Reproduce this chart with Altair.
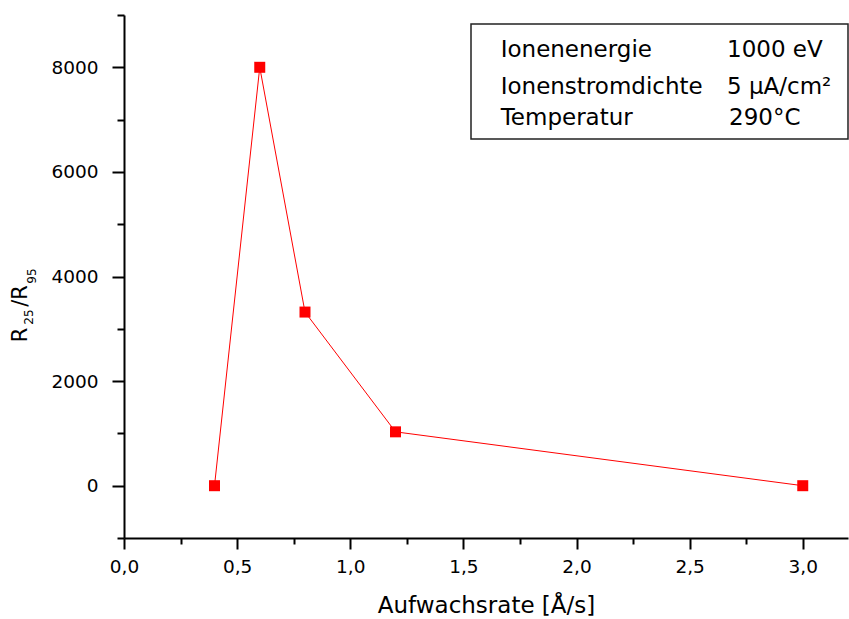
import altair as alt
import pandas as pd

# Measured resistance ratio against growth rate
rate = [0.4, 0.6, 0.8, 1.2, 3.0]
ratio = [0, 8000, 3320, 1030, 0]

# Process parameters shown in the boxed annotation
param_names = ["Ionenenergie", "Ionenstromdichte", "Temperatur"]
param_values = ["1000 eV", "5 µA/cm²", "290°C"]

x_ticks = [i * 0.25 for i in range(13)]
y_ticks = list(range(-1000, 9001, 1000))

FONT = "DejaVu Sans"
W, H = 724, 523
RED = "#ff0000"

df = pd.DataFrame({"rate": rate, "ratio": ratio})

x_enc = alt.X(
    "rate:Q",
    scale=alt.Scale(domain=[0, 3.2], nice=False, zero=False),
    axis=alt.Axis(
        title="Aufwachsrate [Å/s]",
        values=x_ticks,
        labelExpr="datum.value % 0.5 === 0 ? replace(format(datum.value, '.1f'), '.', ',') : ''",
        tickSize={"condition": {"test": "datum.value % 0.5 === 0", "value": 11}, "value": 6},
        labelFlush=False,
        labelPadding=8,
        titlePadding=19,
    ),
)
y_enc = alt.Y(
    "ratio:Q",
    scale=alt.Scale(domain=[-1000, 9000], nice=False, zero=False),
    axis=alt.Axis(
        title="",
        values=y_ticks,
        labelExpr="datum.value % 2000 === 0 ? format(datum.value, 'd') : ''",
        tickSize={"condition": {"test": "datum.value % 2000 === 0", "value": 12}, "value": 7},
        labelFlush=False,
        labelPadding=14,
    ),
)

line = alt.Chart(df).mark_line(color=RED, strokeWidth=1).encode(x=x_enc, y=y_enc)
points = alt.Chart(df).mark_point(
    shape="square", filled=True, color=RED, size=121, opacity=1
).encode(x="rate:Q", y="ratio:Q")

layers = [line, points]

# Rotated y-axis title R25/R95 with subscripts
ytitle_parts = [
    ("R", 21, -97, 320),
    ("25", 12, -91, 302),
    ("/R", 21, -97, 281),
    ("95", 12, -88, 261),
]
for txt, fs, px, py in ytitle_parts:
    layers.append(
        alt.Chart(pd.DataFrame({"t": [txt]}))
        .mark_text(angle=270, align="center", baseline="alphabetic", font=FONT, fontSize=fs, color="black")
        .encode(text="t:N", x=alt.value(px), y=alt.value(py))
    )

# Parameter box
layers.append(
    alt.Chart(pd.DataFrame({"t": [""]}))
    .mark_rect(fill="white", stroke="#222222", strokeWidth=1.5)
    .encode(x=alt.value(347), x2=alt.value(724), y=alt.value(9), y2=alt.value(124))
)
row_baselines = [42.3, 79.3, 110]
value_x = [603, 603, 605]
for name, val, yb, vx in zip(param_names, param_values, row_baselines, value_x):
    layers.append(
        alt.Chart(pd.DataFrame({"t": [name]}))
        .mark_text(align="left", baseline="alphabetic", font=FONT, fontSize=23, color="black")
        .encode(text="t:N", x=alt.value(376.7), y=alt.value(yb))
    )
    layers.append(
        alt.Chart(pd.DataFrame({"t": [val]}))
        .mark_text(align="left", baseline="alphabetic", font=FONT, fontSize=23, color="black")
        .encode(text="t:N", x=alt.value(vx), y=alt.value(yb))
    )

chart = (
    alt.layer(*layers)
    .properties(
        width=W,
        height=H,
        autosize=alt.AutoSizeParams(type="none"),
        padding={"left": 124, "top": 15, "right": 1, "bottom": 81},
        background="white",
    )
    .configure_view(stroke=None)
    .configure_axis(
        grid=False,
        domainColor="black",
        domainWidth=2,
        tickColor="black",
        tickWidth=2,
        labelFont=FONT,
        labelFontSize=18.5,
        labelColor="black",
        titleFont=FONT,
        titleFontSize=23,
        titleFontWeight="normal",
        titleColor="black",
    )
)

chart.save("out.html", embed_options={"renderer": "svg", "actions": False})
